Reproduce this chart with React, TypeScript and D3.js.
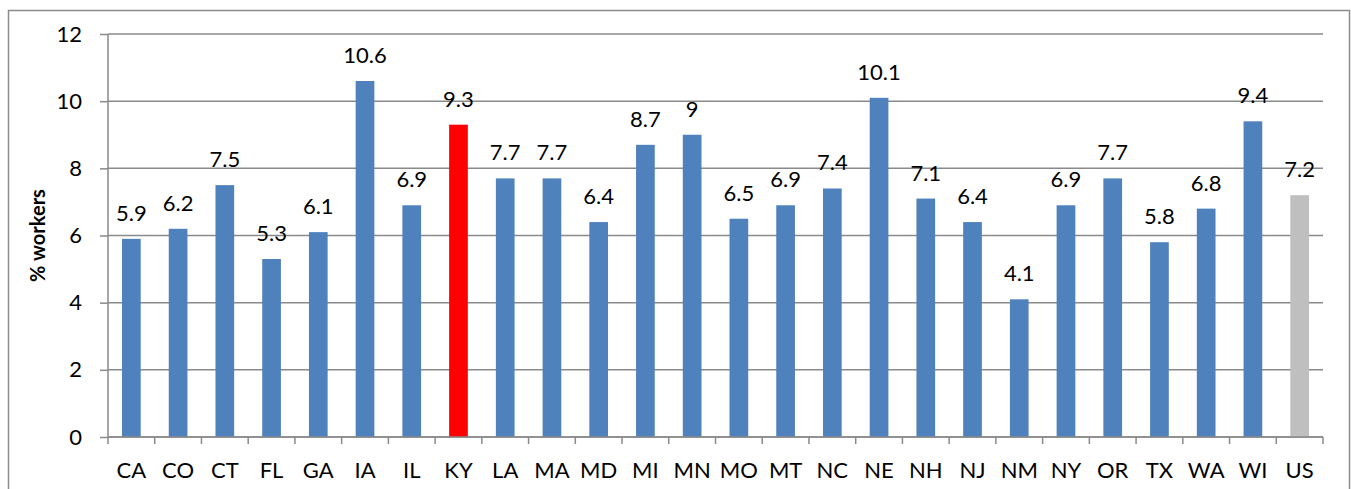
import { useEffect, useRef } from "react";
import { axisLeft, scaleBand, scaleLinear, select } from "d3";

const WIDTH = 1351;
const HEIGHT = 489;
const PLOT = { left: 108, right: 1323, top: 34, bottom: 437 };

const states = [
  "CA", "CO", "CT", "FL", "GA", "IA", "IL", "KY", "LA", "MA", "MD", "MI", "MN",
  "MO", "MT", "NC", "NE", "NH", "NJ", "NM", "NY", "OR", "TX", "WA", "WI", "US",
];
const values = [
  5.9, 6.2, 7.5, 5.3, 6.1, 10.6, 6.9, 9.3, 7.7, 7.7, 6.4, 8.7, 9,
  6.5, 6.9, 7.4, 10.1, 7.1, 6.4, 4.1, 6.9, 7.7, 5.8, 6.8, 9.4, 7.2,
];
const yTicks = [0, 2, 4, 6, 8, 10, 12];
const highlight = "KY";
const national = "US";

const FONT = "Lato, 'Open Sans', sans-serif";
const FS = 22;
const GRID = "#8a8a8a";

function barColor(s: string) {
  if (s === highlight) return "#ff0000";
  if (s === national) return "#bfbfbf";
  return "#4f81bd";
}

export default function App() {
  const yAxisRef = useRef<SVGGElement>(null);

  const x = scaleBand<string>()
    .domain(states)
    .range([PLOT.left, PLOT.right])
    .paddingInner(0.6)
    .paddingOuter(0.3);
  const y = scaleLinear().domain([0, 12]).range([PLOT.bottom, PLOT.top]);
  const step = x.step();
  const bounds = states.map((_, i) => PLOT.left + i * step).concat(PLOT.right);

  useEffect(() => {
    if (!yAxisRef.current) return;
    const g = select(yAxisRef.current);
    g.call(axisLeft(y).tickValues(yTicks).tickSize(8).tickPadding(18));
    g.select(".domain").remove();
    g.selectAll(".tick line").attr("stroke", GRID).attr("stroke-width", 1.5);
    g.selectAll(".tick text")
      .attr("font-family", FONT)
      .attr("font-size", FS)
      .attr("fill", "#000");
  }, []);

  return (
    <svg
      width={WIDTH}
      height={HEIGHT}
      style={{ position: "absolute", left: 0, top: 0, background: "#fff" }}
    >
      <rect x={8.5} y={10.5} width={1341} height={500} fill="none" stroke="#8c8c8c" strokeWidth={1.5} />
      {yTicks.map((t) => (
        <line key={t} x1={PLOT.left} x2={PLOT.right} y1={y(t)} y2={y(t)} stroke={GRID} strokeWidth={1.5} />
      ))}
      <g ref={yAxisRef} transform={`translate(${PLOT.left},0)`} />
      <line x1={PLOT.left} x2={PLOT.left} y1={PLOT.top} y2={PLOT.bottom} stroke={GRID} strokeWidth={1.5} />
      {bounds.map((b, i) => (
        <line key={i} x1={b} x2={b} y1={PLOT.bottom} y2={PLOT.bottom + 7} stroke={GRID} strokeWidth={1.5} />
      ))}
      {states.map((s, i) => (
        <rect
          key={s}
          x={x(s)}
          y={y(values[i])}
          width={x.bandwidth()}
          height={y(0) - y(values[i])}
          fill={barColor(s)}
        />
      ))}
      {states.map((s, i) => (
        <text
          key={`v-${s}`}
          x={(x(s) ?? 0) + x.bandwidth() / 2}
          y={y(values[i]) - 18}
          textAnchor="middle"
          fontFamily={FONT}
          fontSize={FS}
        >
          {values[i]}
        </text>
      ))}
      {states.map((s) => (
        <text
          key={`l-${s}`}
          x={(x(s) ?? 0) + x.bandwidth() / 2}
          y={478}
          textAnchor="middle"
          fontFamily={FONT}
          fontSize={FS}
        >
          {s}
        </text>
      ))}
      <line x1={PLOT.left} x2={PLOT.right} y1={PLOT.bottom} y2={PLOT.bottom} stroke={GRID} strokeWidth={1.5} />
      <text
        transform={`translate(45,${(PLOT.top + PLOT.bottom) / 2}) rotate(-90)`}
        textAnchor="middle"
        fontFamily={FONT}
        fontSize={20}
        fontWeight="bold"
      >
        % workers
      </text>
    </svg>
  );
}
